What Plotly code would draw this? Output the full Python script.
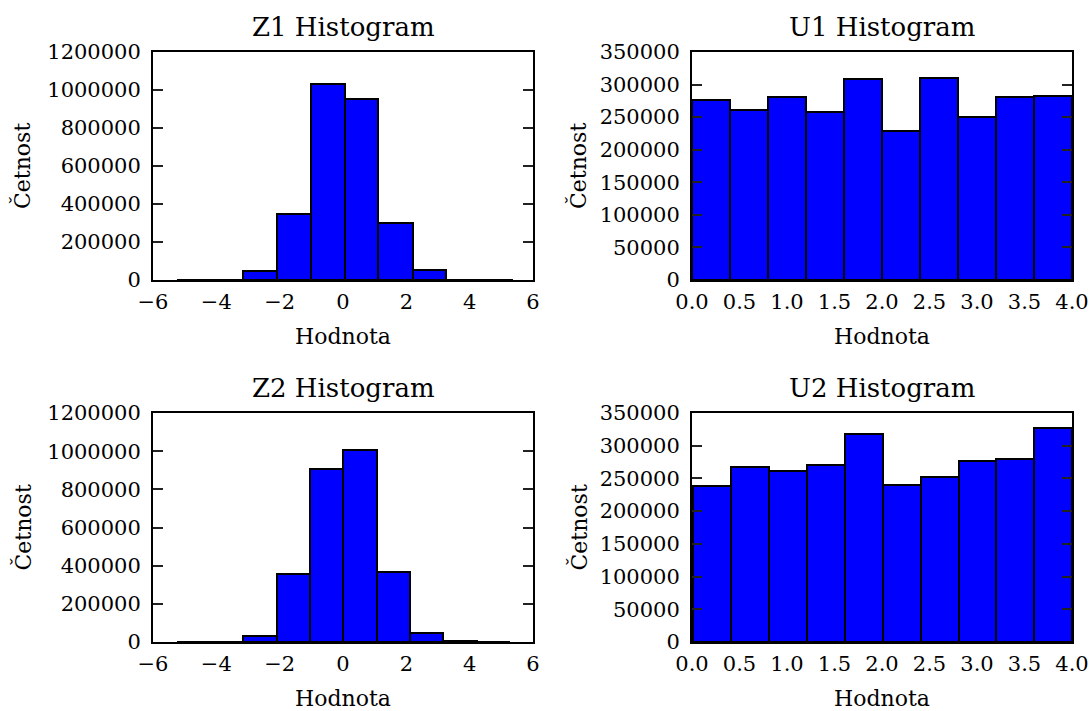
import plotly.graph_objects as go

# ---------------- data ----------------
z1_edges = [-5.25, -4.20, -3.15, -2.08, -1.01, 0.06, 1.12, 2.20, 3.25, 4.33, 5.37]
z1_counts = [150, 2500, 49000, 347000, 1033000, 955000, 301000, 51000, 2500, 150]

u1_edges = [0.0, 0.4, 0.8, 1.2, 1.6, 2.0, 2.4, 2.8, 3.2, 3.6, 4.0]
u1_counts = [277000, 261000, 280500, 258500, 308600, 229400, 309600, 250400, 281000, 282000]

z2_edges = [-5.25, -4.20, -3.15, -2.09, -1.04, 0.01, 1.06, 2.12, 3.17, 4.22, 5.27]
z2_counts = [40, 1500, 33000, 358000, 908000, 1008000, 367000, 49000, 3500, 40]

u2_edges = [0.015, 0.41, 0.81, 1.21, 1.61, 2.01, 2.41, 2.81, 3.20, 3.60, 4.0]
u2_counts = [238900, 268000, 260800, 271000, 317400, 239400, 252700, 276000, 279700, 327000]

titles = ["Z1 Histogram", "U1 Histogram", "Z2 Histogram", "U2 Histogram"]
x_label = "Hodnota"
y_label = "Četnost"

z_xticks = [-6, -4, -2, 0, 2, 4, 6]
u_xticks = [0.0, 0.5, 1.0, 1.5, 2.0, 2.5, 3.0, 3.5, 4.0]
z_yticks = [0, 200000, 400000, 600000, 800000, 1000000, 1200000]
u_yticks = [0, 50000, 100000, 150000, 200000, 250000, 300000, 350000]

# ---------------- layout geometry (pixels) ----------------
W, H = 1092, 711
FONT = "DejaVu Serif"
TICK_SIZE = 21
LABEL_SIZE = 22
TITLE_SIZE = 26
panels = [
    (z1_edges, z1_counts, [-6, 6], z_xticks, "d", [0, 1200000], z_yticks, (153, 533, 52, 280)),
    (u1_edges, u1_counts, [0, 4], u_xticks, ".1f", [0, 350000], u_yticks, (692, 1072, 52, 280)),
    (z2_edges, z2_counts, [-6, 6], z_xticks, "d", [0, 1200000], z_yticks, (153, 533, 413, 642)),
    (u2_edges, u2_counts, [0, 4], u_xticks, ".1f", [0, 350000], u_yticks, (692, 1072, 413, 642)),
]

fig = go.Figure()
annotations = []
for i, (edges, counts, xr, xt, xfmt, yr, yt, box) in enumerate(panels):
    n = i + 1
    sfx = "" if n == 1 else str(n)
    centers = [(edges[k] + edges[k + 1]) / 2 for k in range(len(counts))]
    widths = [edges[k + 1] - edges[k] for k in range(len(counts))]
    fig.add_trace(go.Bar(
        x=centers, y=counts, width=widths,
        marker=dict(color="#0000FF", line=dict(color="black", width=2)),
        xaxis="x" + sfx, yaxis="y" + sfx, showlegend=False,
    ))
    x0, x1, y0, y1 = box
    fig.layout["xaxis" + sfx] = dict(
        domain=[x0 / W, x1 / W], range=xr, anchor="y" + sfx, automargin=False,
        tickvals=xt, tickformat=xfmt, ticks="", showgrid=False, zeroline=False,
        showline=True, linecolor="black", linewidth=2, mirror=True,
        tickfont=dict(family=FONT, size=TICK_SIZE, color="black"),
        ticklabelstandoff=2,
    )
    fig.layout["yaxis" + sfx] = dict(
        domain=[1 - y1 / H, 1 - y0 / H], range=yr, anchor="x" + sfx, automargin=False,
        tickvals=yt, tickformat="d", ticks="inside", ticklen=10, tickwidth=1.5,
        tickcolor="#222222", showgrid=False, zeroline=False,
        showline=True, linecolor="black", linewidth=2, mirror="ticks",
        tickfont=dict(family=FONT, size=TICK_SIZE, color="black"),
        ticklabelstandoff=6,
    )
    cx = (x0 + x1) / 2
    cy = (y0 + y1) / 2
    annotations.append(dict(text=titles[i], x=cx / W, y=1 - (y0 - 25) / H, xref="paper", yref="paper",
                            xanchor="center", yanchor="middle", showarrow=False,
                            font=dict(family=FONT, size=TITLE_SIZE, color="black")))
    annotations.append(dict(text=x_label, x=cx / W, y=1 - (y1 + 56) / H, xref="paper", yref="paper",
                            xanchor="center", yanchor="middle", showarrow=False,
                            font=dict(family=FONT, size=LABEL_SIZE, color="black")))
    lx = 22 if x0 < 500 else 578
    annotations.append(dict(text=y_label, x=lx / W, y=1 - cy / H, xref="paper", yref="paper",
                            xanchor="center", yanchor="middle", showarrow=False, textangle=-90,
                            font=dict(family=FONT, size=LABEL_SIZE, color="black")))

fig.update_layout(
    template="none",
    width=W, height=H, margin=dict(l=0, r=0, t=0, b=0, pad=0, autoexpand=False),
    paper_bgcolor="white", plot_bgcolor="white",
    font=dict(family=FONT, color="black"),
    bargap=0, annotations=annotations,
)
fig.write_html("out.html")
